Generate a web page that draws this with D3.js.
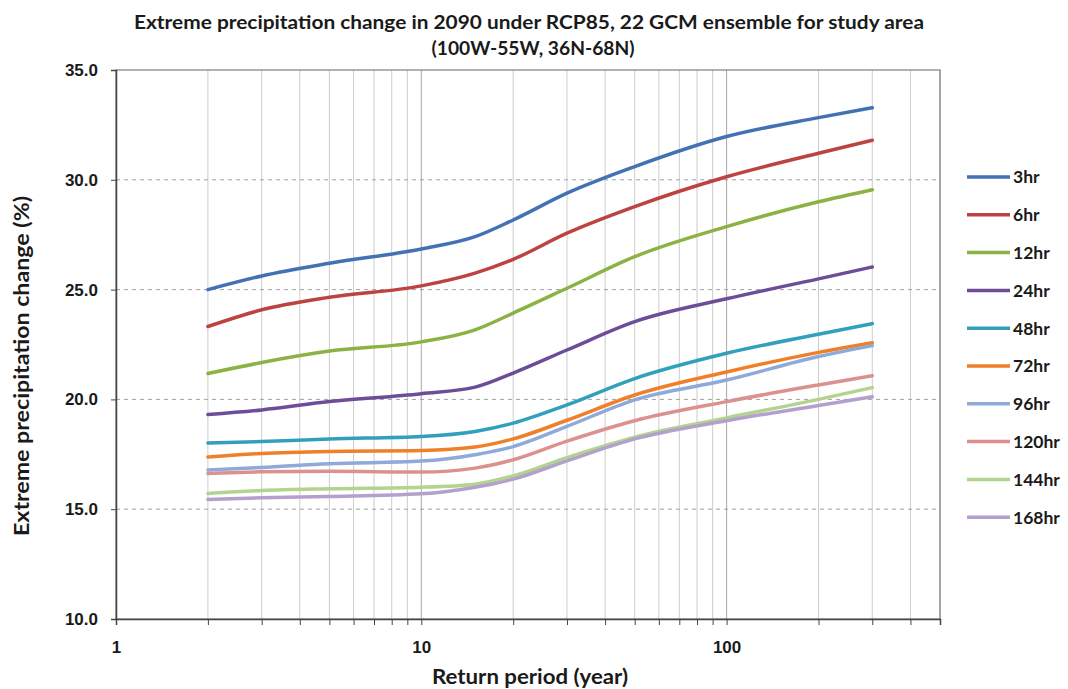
<!DOCTYPE html>
<html>
<head>
<meta charset="utf-8">
<script src="https://cdn.jsdelivr.net/npm/d3@7"></script>
<style>
  body { margin: 0; background: #fff; }
  svg { font-family: Lato, "Open Sans", sans-serif; }
  .axis text { font-size: 17px; font-weight: bold; fill: #1a1a1a; }
  .axis path, .axis line { stroke: #444; }
</style>
</head>
<body>
<svg id="chart"></svg>
<script>
// return periods (years)
let periods = [2, 3, 5, 10, 15, 20, 30, 50, 100, 200, 300];

let durations = ["3hr", "6hr", "12hr", "24hr", "48hr", "72hr", "96hr", "120hr", "144hr", "168hr"];

let hr3   = [25.0, 25.62, 26.2, 26.85, 27.41, 28.17, 29.39, 30.6, 31.97, 32.83, 33.28];
let hr6   = [23.32, 24.08, 24.65, 25.17, 25.75, 26.38, 27.57, 28.78, 30.14, 31.21, 31.8];
let hr12  = [21.18, 21.68, 22.2, 22.62, 23.17, 23.93, 25.06, 26.5, 27.87, 29.0, 29.55];
let hr24  = [19.31, 19.52, 19.9, 20.26, 20.56, 21.2, 22.25, 23.54, 24.58, 25.49, 26.03];
let hr48  = [18.02, 18.08, 18.2, 18.31, 18.54, 18.92, 19.75, 20.95, 22.1, 22.97, 23.45];
let hr72  = [17.38, 17.54, 17.63, 17.67, 17.83, 18.2, 19.05, 20.2, 21.25, 22.14, 22.58];
let hr96  = [16.79, 16.9, 17.07, 17.19, 17.48, 17.85, 18.77, 19.98, 20.88, 21.95, 22.45];
let hr120 = [16.63, 16.7, 16.73, 16.69, 16.87, 17.25, 18.1, 19.03, 19.9, 20.66, 21.08];
let hr144 = [15.72, 15.85, 15.93, 16.0, 16.14, 16.52, 17.35, 18.28, 19.16, 20.0, 20.54];
let hr168 = [15.44, 15.52, 15.58, 15.7, 16.0, 16.37, 17.2, 18.2, 19.03, 19.72, 20.12];

let seriesValues = [hr3, hr6, hr12, hr24, hr48, hr72, hr96, hr120, hr144, hr168];

let colors = ["#4272b4", "#bd4340", "#8cb244", "#6e4d98", "#33a0bb", "#f07f2a", "#8ea9da", "#dc918e", "#b3d48e", "#b3a0cc"];

let yTicks = [10, 15, 20, 25, 30, 35];
let xLabels = [1, 10, 100];

let width = 1068;
let height = 689;
let plotLeft = 116, plotRight = 940, plotTop = 70, plotBottom = 619;

let svg = d3.select("#chart")
    .attr("width", width)
    .attr("height", height);

let xScale = d3.scaleLog().domain([1, 500]).range([plotLeft, plotRight]);
let yScale = d3.scaleLinear().domain([10, 35]).range([plotBottom, plotTop]);

// every log tick 1..500
let xTicks = [];
[1, 10, 100].forEach(dec => {
    for (let k = 1; k <= 9; k++) {
        if (dec * k <= 500) xTicks.push(dec * k);
    }
});

// vertical grid
svg.append("g")
    .selectAll("line")
    .data(xTicks.filter(d => d > 1))
    .enter()
    .append("line")
    .attr("x1", d => xScale(d))
    .attr("x2", d => xScale(d))
    .attr("y1", plotTop)
    .attr("y2", plotBottom)
    .attr("stroke", d => (d === 10 || d === 100) ? "#a8a8a8" : "#cccccc")
    .attr("stroke-width", 1);

// horizontal dashed grid
svg.append("g")
    .selectAll("line")
    .data(yTicks.filter(d => d > 10 && d < 35))
    .enter()
    .append("line")
    .attr("x1", plotLeft)
    .attr("x2", plotRight)
    .attr("y1", d => yScale(d))
    .attr("y2", d => yScale(d))
    .attr("stroke", "#a0a0a0")
    .attr("stroke-dasharray", "4,4");

// plot border
svg.append("rect")
    .attr("x", plotLeft)
    .attr("y", plotTop)
    .attr("width", plotRight - plotLeft)
    .attr("height", plotBottom - plotTop)
    .attr("fill", "none")
    .attr("stroke", "#666");

let xAxis = d3.axisBottom(xScale)
    .tickValues(xTicks.concat([500]))
    .tickFormat(d => xLabels.includes(d) ? d : "")
    .tickSize(6)
    .tickPadding(16);

let yAxis = d3.axisLeft(yScale)
    .tickValues(yTicks)
    .tickFormat(d3.format(".1f"))
    .tickSize(5)
    .tickPadding(13);

svg.append("g")
    .attr("class", "axis")
    .attr("transform", `translate(0, ${plotBottom})`)
    .call(xAxis)
    .call(g => g.select(".domain").attr("stroke-width", 1.5));

svg.append("g")
    .attr("class", "axis")
    .attr("transform", `translate(${plotLeft}, 0)`)
    .call(yAxis)
    .call(g => g.select(".domain").attr("stroke-width", 1.5));

// curves
let line = d3.line()
    .x((d, i) => xScale(periods[i]))
    .y(d => yScale(d))
    .curve(d3.curveMonotoneX);

svg.append("g")
    .selectAll("path")
    .data(seriesValues)
    .enter()
    .append("path")
    .attr("d", d => line(d))
    .attr("fill", "none")
    .attr("stroke", (d, i) => colors[i])
    .attr("stroke-width", 3.5)
    .attr("stroke-linecap", "round");

// legend
let legend = svg.append("g")
    .selectAll("g")
    .data(durations)
    .enter()
    .append("g")
    .attr("transform", (d, i) => `translate(967, ${177 + i * 37.8})`);

legend.append("line")
    .attr("x1", 0)
    .attr("x2", 43)
    .attr("stroke", (d, i) => colors[i])
    .attr("stroke-width", 3.5);

legend.append("text")
    .attr("x", 46)
    .attr("dy", "0.36em")
    .attr("font-size", 17.5)
    .attr("font-weight", "bold")
    .attr("fill", "#1a1a1a")
    .text(d => d);

// titles
svg.append("text")
    .attr("x", 529)
    .attr("y", 29)
    .attr("text-anchor", "middle")
    .attr("font-size", 18)
    .attr("font-weight", "bold")
    .attr("fill", "#1a1a1a")
    .attr("textLength", 790)
    .attr("lengthAdjust", "spacingAndGlyphs")
    .text("Extreme precipitation change in 2090 under RCP85, 22 GCM ensemble for study area");

svg.append("text")
    .attr("x", 533)
    .attr("y", 55)
    .attr("text-anchor", "middle")
    .attr("font-size", 18)
    .attr("font-weight", "bold")
    .attr("fill", "#1a1a1a")
    .attr("textLength", 203)
    .attr("lengthAdjust", "spacingAndGlyphs")
    .text("(100W-55W, 36N-68N)");

svg.append("text")
    .attr("x", 530)
    .attr("y", 684)
    .attr("text-anchor", "middle")
    .attr("font-size", 20)
    .attr("font-weight", "bold")
    .attr("fill", "#1a1a1a")
    .attr("textLength", 196)
    .attr("lengthAdjust", "spacingAndGlyphs")
    .text("Return period (year)");

svg.append("text")
    .attr("transform", "translate(29, 366) rotate(-90)")
    .attr("text-anchor", "middle")
    .attr("font-size", 20)
    .attr("font-weight", "bold")
    .attr("fill", "#1a1a1a")
    .attr("textLength", 340)
    .attr("lengthAdjust", "spacingAndGlyphs")
    .text("Extreme precipitation change (%)");
</script>
</body>
</html>
